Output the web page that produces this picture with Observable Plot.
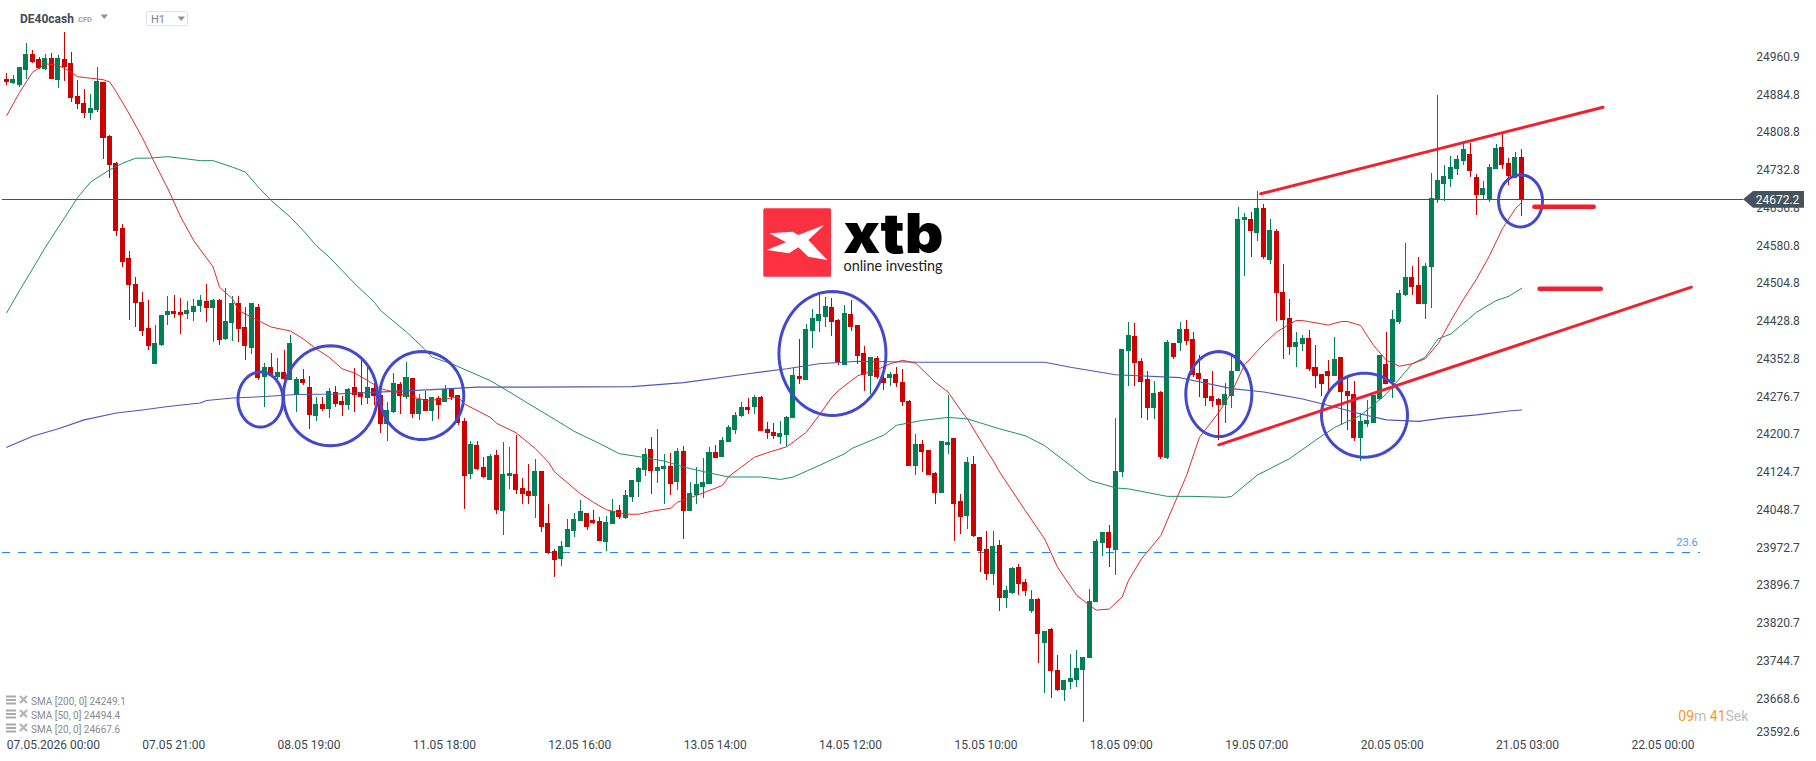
<!DOCTYPE html>
<html><head><meta charset="utf-8">
<script src="https://cdn.jsdelivr.net/npm/d3@7"></script>
<script src="https://cdn.jsdelivr.net/npm/@observablehq/plot@0.6"></script>
<style>
html,body{margin:0;padding:0;background:#fff;overflow:hidden}
#wrap{position:relative;width:1816px;height:761px;font-family:Roboto,sans-serif}
#wrap svg.plot{display:block}
.ov{position:absolute;white-space:nowrap;line-height:1}
</style></head><body>
<div id="wrap">
<div id="chart"></div>
<div class="ov" style="left:20px;top:13px;font-size:12px;font-weight:700;color:#3f4a55">DE40cash</div>
<div class="ov" style="left:78px;top:16px;font-size:7.5px;font-weight:700;color:#9aa1a8">CFD</div>
<svg class="ov" style="left:100px;top:14px" width="10" height="6"><path d="M0.5 0.5H8L4.2 5Z" fill="#8d9299"/></svg>
<div class="ov" style="left:145.5px;top:10.5px;width:42px;height:15px;border:1px solid #e2e2e2;border-radius:2px;box-sizing:border-box"></div>
<div class="ov" style="left:151px;top:14px;font-size:11px;color:#7a8087">H1</div>
<svg class="ov" style="left:177px;top:16px" width="10" height="6"><path d="M0.5 0.5H8L4.2 5Z" fill="#8d9299"/></svg>

<div class="ov" style="left:31px;top:696.5px;font-size:10px;color:#8a8a8a">SMA [200, 0] 24249.1</div>
<div class="ov" style="left:31px;top:710.5px;font-size:10px;color:#8a8a8a">SMA [50, 0] 24494.4</div>
<div class="ov" style="left:31px;top:724.5px;font-size:10px;color:#8a8a8a">SMA [20, 0] 24667.6</div>
<svg class="ov" style="left:6px;top:695px" width="22" height="42">
  <g id="lg"><path d="M0 1.5H10M0 5H10M0 8.5H10" stroke="#a9a9a9" stroke-width="2"/><path d="M14 1L21 8M21 1L14 8" stroke="#b5b5b5" stroke-width="2.4"/></g>
  <use href="#lg" y="14"/><use href="#lg" y="28"/>
</svg>

<div class="ov" style="left:1678.3px;top:709px;font-size:14px;color:#bdbdbd"><span style="color:#f7971e">09</span>m <span style="color:#f7971e">41</span>Sek</div>
<div class="ov" style="left:1676.3px;top:537px;font-size:11px;color:#3fa0f4">23.6</div>

<svg class="ov" style="left:755px;top:180px" width="200" height="110" viewBox="755 180 200 110">
  <rect x="763.3" y="208.3" width="67.7" height="68.4" rx="1.5" fill="#fb3040"/>
  <path d="M769.3 233.3L792.7 231.7L798.3 235L824.3 225L808.3 240L827.3 260L808.3 256.7L798.3 247.3L789 253.3L766.7 250L786 242.3Z" fill="#fff"/>
  <text x="843.5" y="253" font-family="Inter,sans-serif" font-weight="900" font-size="55" textLength="100" lengthAdjust="spacingAndGlyphs" fill="#000">xtb</text>
  <text x="843.5" y="271" font-family="Lato,sans-serif" font-weight="400" font-size="15" textLength="99" lengthAdjust="spacingAndGlyphs" fill="#222">online investing</text>
</svg>
</div>
<script>
const opens=[24914,24906,24902,24933,24965,24955,24935,24957,24912,24955,
24947,24880,24866,24846,24852,24908,24800,24745,24614,24554,
24502,24465,24413,24341,24379,24439,24447,24445,24441,24445,
24457,24467,24453,24469,24391,24423,24463,24415,24373,24455,
24314,24335,24314,24324,24308,24278,24310,24294,24236,24260,
24250,24284,24266,24258,24294,24284,24272,24292,24278,24220,
24244,24300,24274,24312,24240,24270,24246,24272,24264,24290,
24278,24226,24119,24177,24133,24107,24157,24045,24115,24119,
24091,24085,24075,24125,24020,23964,23948,23972,24004,24024,
24041,24026,24024,23982,24018,24047,24030,24073,24103,24127,
24169,24125,24129,24135,24103,24165,24045,24077,24093,24099,
24163,24153,24183,24208,24236,24254,24254,24274,24210,24204,
24194,24198,24232,24316,24308,24407,24427,24435,24455,24429,
24339,24441,24419,24363,24316,24353,24312,24312,24320,24304,
24266,24135,24180,24167,24121,24081,24177,24192,24065,24034,
24139,23992,23968,23918,23976,23869,23879,23932,23901,23843,
23867,23779,23807,23724,23684,23700,23704,23724,23749,23861,
23980,24002,23966,24123,24367,24397,24347,24310,24252,24284,
24151,24383,24383,24411,24391,24322,24310,24276,24270,24258,
24276,24326,24631,24633,24604,24655,24550,24608,24486,24433,
24375,24381,24393,24335,24320,24327,24316,24355,24286,24280,
24192,24220,24222,24270,24341,24304,24425,24480,24516,24500,
24461,24536,24672,24703,24713,24733,24749,24763,24717,24681,
24673,24733,24777,24745,24715,24757];
const highs=[24926,24922,24939,24987,24973,24959,24965,24967,24963,25009,
24969,24912,24894,24884,24939,24908,24802,24747,24622,24568,
24516,24486,24469,24419,24439,24477,24479,24473,24467,24471,
24479,24502,24471,24471,24494,24477,24477,24455,24463,24461,
24343,24363,24353,24369,24399,24314,24330,24316,24274,24274,
24292,24296,24276,24292,24332,24351,24336,24302,24292,24264,
24322,24304,24345,24312,24280,24286,24274,24276,24298,24292,
24278,24232,24185,24185,24153,24159,24167,24183,24173,24198,
24111,24139,24149,24125,24059,23968,23984,24029,24041,24067,
24041,24047,24032,24034,24069,24057,24087,24107,24133,24171,
24194,24210,24159,24161,24171,24175,24103,24133,24151,24173,
24177,24194,24218,24244,24264,24272,24278,24276,24224,24222,
24226,24236,24332,24391,24421,24451,24481,24475,24473,24431,
24459,24469,24419,24377,24355,24357,24335,24324,24334,24330,
24268,24200,24188,24167,24123,24186,24278,24192,24079,24153,
24155,23992,24004,24004,23986,23894,23932,23938,23908,23885,
23869,23803,23809,23755,23704,23757,23765,23751,23887,23988,
24002,24016,24232,24371,24425,24423,24353,24326,24306,24286,
24389,24383,24425,24429,24405,24359,24310,24326,24272,24302,
24359,24657,24645,24647,24689,24663,24633,24612,24542,24471,
24405,24399,24409,24379,24320,24349,24395,24355,24318,24306,
24242,24268,24278,24359,24405,24449,24490,24584,24538,24556,
24544,24725,24882,24741,24759,24761,24788,24786,24723,24709,
24743,24784,24808,24755,24767,24773];
const lows=[24902,24904,24899,24914,24947,24935,24933,24914,24896,24910,
24868,24854,24836,24832,24848,24753,24715,24598,24536,24429,
24415,24397,24369,24341,24377,24419,24433,24401,24431,24427,
24445,24425,24385,24379,24389,24387,24385,24349,24361,24308,
24254,24314,24310,24308,24308,24244,24298,24210,24226,24246,
24232,24254,24236,24248,24244,24258,24260,24258,24202,24185,
24242,24240,24270,24232,24228,24246,24226,24230,24264,24268,
24218,24049,24109,24127,24111,24107,24039,23996,24089,24079,
24059,24059,24031,24002,23958,23912,23934,23972,23992,24024,
24006,24018,23984,23964,24018,24028,24028,24063,24073,24115,
24079,24101,24059,24077,24087,23988,24045,24059,24071,24099,
24151,24153,24183,24200,24234,24240,24240,24206,24190,24190,
24180,24175,24232,24300,24308,24373,24405,24415,24397,24339,
24339,24407,24341,24286,24280,24310,24288,24296,24294,24256,
24135,24117,24123,24117,24059,24081,24159,23984,23998,24008,
23992,23922,23906,23896,23843,23849,23877,23875,23873,23839,
23738,23678,23668,23682,23662,23686,23690,23620,23749,23861,
23954,23932,23916,24113,24296,24296,24232,24228,24230,24149,
24149,24351,24367,24379,24314,24274,24256,24254,24188,24222,
24252,24326,24518,24556,24588,24552,24542,24427,24351,24359,
24335,24367,24327,24292,24276,24286,24316,24218,24208,24186,
24145,24214,24222,24268,24300,24272,24421,24478,24480,24461,
24431,24453,24665,24669,24697,24721,24741,24717,24641,24673,
24667,24733,24733,24701,24715,24639];
const closes=[24909,24914,24939,24965,24949,24937,24957,24914,24957,24939,
24876,24864,24846,24856,24910,24796,24741,24608,24546,24500,
24463,24407,24377,24383,24439,24447,24441,24439,24449,24457,
24469,24453,24469,24389,24427,24463,24411,24377,24463,24312,
24335,24318,24324,24310,24383,24310,24302,24238,24260,24250,
24286,24260,24258,24290,24278,24274,24294,24276,24220,24248,
24302,24276,24314,24240,24270,24246,24274,24258,24290,24274,
24222,24115,24179,24129,24113,24155,24047,24119,24121,24087,
24079,24075,24125,24012,23960,23946,23974,24008,24029,24045,
24012,24020,23984,24022,24045,24032,24077,24107,24131,24159,
24125,24133,24135,24099,24165,24045,24081,24099,24103,24163,
24151,24188,24214,24238,24254,24248,24274,24206,24202,24196,
24202,24234,24318,24310,24411,24433,24441,24457,24425,24345,
24443,24415,24357,24318,24355,24314,24302,24320,24302,24264,
24135,24180,24163,24117,24081,24186,24183,24059,24032,24143,
23994,23964,23918,23974,23869,23885,23930,23897,23883,23867,
23797,23803,23722,23684,23704,23708,23728,23751,23863,23984,
24002,23970,24125,24371,24399,24343,24304,24252,24282,24153,
24385,24355,24411,24387,24318,24310,24272,24266,24258,24280,
24326,24633,24637,24608,24655,24556,24610,24484,24429,24375,
24385,24393,24331,24316,24300,24316,24351,24284,24276,24192,
24226,24228,24278,24359,24300,24431,24484,24516,24496,24461,
24538,24675,24711,24719,24737,24753,24773,24729,24681,24695,
24737,24775,24741,24719,24757,24672];

const sma20Bars=[0,2,4,6,8,10,11,13,15,16,17,19,21,23,25,27,29,32,33,35,36,39,41,44,46,48,50,52,54,56,58,60,63,65,68,70,71,75,76,79,82,84,85,89,91,93,96,98,100,103,104,107,111,112,116,118,121,124,126,128,129,132,135,137,139,141,144,146,148,149,152,153,154,158,161,163,166,169,171,173,174,176,179,181,183,185,188,190,192,195,197,199,200,201,205,207,208,210,212,214,216,218,220,222,224,226,228,230,232,234,235];
const sma20=[24842,24889,24929,24946,24943,24929,24920,24917,24914,24909,24889,24845,24798,24745,24694,24637,24590,24537,24496,24473,24449,24429,24416,24408,24392,24372,24355,24332,24323,24308,24292,24285,24275,24268,24271,24275,24261,24234,24222,24203,24171,24144,24124,24080,24063,24048,24039,24039,24045,24051,24063,24077,24097,24115,24154,24163,24175,24204,24238,24275,24288,24318,24330,24342,24349,24343,24305,24285,24248,24231,24167,24147,24124,24046,23989,23932,23875,23846,23848,23872,23906,23949,23996,24057,24117,24194,24244,24285,24340,24382,24406,24422,24429,24429,24420,24427,24427,24419,24379,24349,24337,24342,24352,24382,24429,24473,24513,24560,24614,24654,24667];
const sma50Bars=[0,2,4,6,9,11,13,16,18,20,22,25,27,30,32,35,37,39,41,44,46,48,50,54,57,58,62,65,66,69,72,75,78,81,85,88,92,95,99,102,105,109,112,117,120,122,126,130,131,136,138,142,146,149,154,158,161,165,168,172,174,180,184,189,190,194,199,203,206,210,214,218,220,222,224,228,231,233,235];
const sma50=[24445,24490,24533,24577,24637,24677,24708,24733,24746,24756,24756,24759,24756,24751,24751,24738,24728,24698,24671,24637,24610,24580,24557,24503,24466,24449,24406,24369,24355,24342,24325,24308,24285,24261,24230,24206,24181,24161,24153,24146,24134,24122,24114,24114,24109,24114,24137,24161,24171,24198,24218,24228,24234,24231,24211,24197,24177,24137,24107,24092,24090,24075,24075,24073,24075,24118,24151,24188,24214,24238,24281,24342,24355,24392,24402,24446,24469,24478,24494];
const sma200Bars=[0,4,8,12,17,21,25,30,31,35,40,45,51,61,66,73,81,97,105,115,121,126,132,142,149,161,165,172,182,190,195,201,206,210,214,219,223,228,233,235];
const sma200=[24174,24196,24211,24229,24243,24249,24256,24263,24268,24273,24276,24280,24281,24287,24290,24295,24295,24296,24304,24322,24332,24342,24347,24345,24345,24345,24335,24320,24314,24292,24285,24271,24255,24241,24229,24226,24233,24239,24247,24249];

const priceTicks=[24960.9,24884.8,24808.8,24732.8,24656.8,24580.8,24504.8,24428.8,24352.8,24276.7,24200.7,24124.7,24048.7,23972.7,23896.7,23820.7,23744.7,23668.6];
const lastTick=[23592.6];
const timeBars=[0,21,42,63,84,105,126,147,168,189,210,231,252];
const timeLabels=["07.05.2026 00:00","07.05 21:00","08.05 19:00","11.05 18:00","12.05 16:00","13.05 14:00","14.05 12:00","15.05 10:00","18.05 09:00","19.05 07:00","20.05 05:00","21.05 03:00","22.05 00:00"];
const lastPrice=24672.2, fibPrice=23962.8;
// trend lines and level marks, in bars and price
const tlBar1=[194.5,188,236.95,237.75], tlBar2=[247.6,261.3,246.15,247.25];
const tlPrice1=[24684.3,24178.8,24658,24493], tlPrice2=[24858.6,24496.2,24658,24493];
const tlWidth=[3,3,4.5,4.5];
// hand-drawn ellipses: centre bar, centre price, radius in bars, radius in price
const elBar=[39.35,50.2,64.37,128.07,188,210.6,234.8];
const elPrice=[24270,24277.5,24278,24362.7,24281,24238.4,24670];
const elRb=[3.49,7.29,6.51,8.3,5.12,6.67,3.41];
const elRp=[55.4,100.7,88.6,124.9,85.6,84.6,52.4];

const n=Math.min(opens.length,highs.length,lows.length,closes.length);
const candles=d3.range(n).map(i=>({i,o:opens[i],h:highs[i],l:lows[i],c:closes[i],up:closes[i]>=opens[i]}));
const ell=elBar.flatMap((b,k)=>d3.range(0,73).map(a=>({k,x:b+elRb[k]*Math.cos(a*Math.PI/36),y:elPrice[k]+elRp[k]*Math.sin(a*Math.PI/36)})));
const tls=tlBar1.map((b,k)=>({x1:b,x2:tlBar2[k],y1:tlPrice1[k],y2:tlPrice2[k],w:tlWidth[k]}));
const mk=(xs,ys)=>xs.map((x,i)=>({x,y:ys[i]}));
const GREEN="#037f56", RED="#cf0000";
const body=0.39;

const plot=Plot.plot({
  width:1816,height:761,margin:0,
  style:{fontFamily:"Roboto,sans-serif",fontSize:"12px",background:"#fff",overflow:"visible"},
  x:{type:"linear",domain:[0,252],range:[6.3,1630.9]},
  y:{type:"linear",domain:[25073.5,23541.1],range:[0,761],reverse:false},
  marks:[
    Plot.axisY(priceTicks,{anchor:"right",tickSize:0,tickPadding:0,dx:-16.7,dy:0.5,textAnchor:"end",color:"#3d464e",tickFormat:d=>d.toFixed(1),label:null}),
    Plot.axisY(lastTick,{anchor:"right",tickSize:0,tickPadding:0,dx:-16.7,dy:-3.5,textAnchor:"end",color:"#3d464e",tickFormat:d=>d.toFixed(1),label:null}),
    Plot.axisX(timeBars,{anchor:"bottom",tickSize:0,tickPadding:0,dy:-21.5,textAnchor:"start",color:"#3d464e",tickFormat:d=>timeLabels[timeBars.indexOf(d)],label:null}),
    Plot.ruleY([fibPrice],{x1:-0.67,x2:262.7,stroke:"#1e88e5",strokeWidth:1,strokeDasharray:"8,8",shapeRendering:"crispEdges"}),
    Plot.ruleX(candles,{x:"i",y1:"l",y2:"h",stroke:d=>d.up?GREEN:RED,strokeWidth:1,shapeRendering:"crispEdges"}),
    Plot.rect(candles,{x1:d=>d.i-body,x2:d=>d.i+body,y1:"o",y2:"c",fill:d=>d.up?GREEN:RED,shapeRendering:"crispEdges"}),
    Plot.ruleY([lastPrice],{x1:-0.67,x2:269.4,stroke:"#44525c",strokeWidth:1,shapeRendering:"crispEdges"}),
    Plot.line(mk(sma200Bars,sma200),{x:"x",y:"y",stroke:"#4f57b8",strokeWidth:1.1}),
    Plot.line(mk(sma50Bars,sma50),{x:"x",y:"y",stroke:"#1f8f6e",strokeWidth:1}),
    Plot.line(mk(sma20Bars,sma20),{x:"x",y:"y",stroke:"#e02a2a",strokeWidth:1}),
    Plot.line(ell,{x:"x",y:"y",z:"k",stroke:"#4349cc",strokeWidth:3}),
    Plot.link(tls,{x1:"x1",x2:"x2",y1:"y1",y2:"y2",stroke:"#f0202e",strokeWidth:"w",strokeLinecap:"round"}),
    (index,scales,values,dim)=>{
      const y=scales.y(lastPrice), g=d3.create("svg:g");
      g.append("path").attr("d",`M1743 ${y}L1753 ${y-8.3}H1804V${y+8.4}H1753Z`).attr("fill","#44535e");
      g.append("text").attr("x",1799.3).attr("y",y+1).attr("dy","0.35em").attr("text-anchor","end").attr("fill","#fff").attr("font-size",12).text(lastPrice.toFixed(1));
      return g.node();
    }
  ]
});
document.getElementById("chart").appendChild(plot);
</script>
</body></html>
